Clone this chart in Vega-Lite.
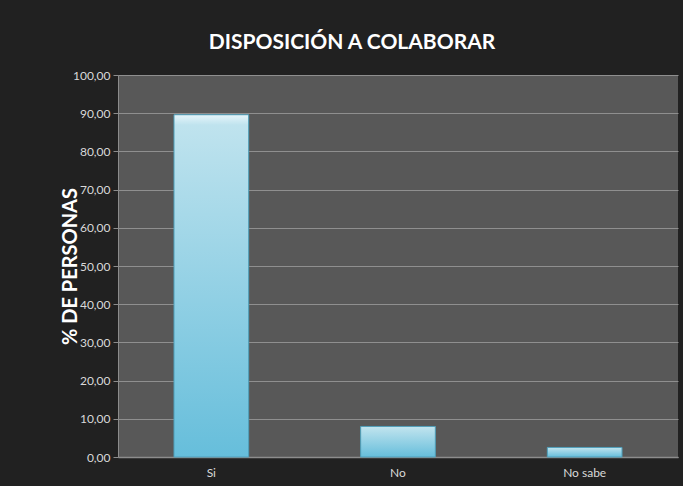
{
  "$schema": "https://vega.github.io/schema/vega-lite/v6.json",
  "width": 560,
  "height": 382,
  "autosize": {"type": "none"},
  "padding": {"left": 118, "top": 75, "right": 5, "bottom": 29},
  "background": "#212121",
  "title": {
    "text": "DISPOSICIÓN A COLABORAR",
    "font": "Lato",
    "fontSize": 21,
    "fontWeight": "bold",
    "color": "#ffffff",
    "anchor": "middle",
    "dx": -46,
    "offset": 16
  },
  "config": {
    "view": {"fill": "#585858", "stroke": null},
    "font": "Lato"
  },
  "data": {
    "values": [
      {"respuesta": "Si", "porcentaje": 89.6},
      {"respuesta": "No", "porcentaje": 8.0},
      {"respuesta": "No sabe", "porcentaje": 2.5}
    ]
  },
  "mark": {
    "type": "bar",
    "stroke": "#4f9fba",
    "strokeWidth": 1,
    "color": {
      "gradient": "linear",
      "x1": 0, "y1": 0, "x2": 0, "y2": 1,
      "stops": [
        {"offset": 0, "color": "#e6f5fa"},
        {"offset": 0.03, "color": "#bfe3ee"},
        {"offset": 1, "color": "#66bedb"}
      ]
    }
  },
  "encoding": {
    "x": {
      "field": "respuesta",
      "type": "nominal",
      "sort": ["Si", "No", "No sabe"],
      "scale": {"paddingInner": 0.6, "paddingOuter": 0.3},
      "axis": {
        "title": null,
        "labelAngle": 0,
        "labelColor": "#d9d9d9",
        "labelFont": "Lato",
        "labelFontSize": 12,
        "labelPadding": 10,
        "ticks": false,
        "domainColor": "#8c8c8c",
        "domainWidth": 1.5
      }
    },
    "y": {
      "field": "porcentaje",
      "type": "quantitative",
      "scale": {"domain": [0, 100]},
      "axis": {
        "title": "% DE PERSONAS",
        "titleFont": "Lato",
        "titleFontSize": 20,
        "titleFontWeight": "bold",
        "titleColor": "#ffffff",
        "titleX": -38,
        "values": [0, 10, 20, 30, 40, 50, 60, 70, 80, 90, 100],
        "labelExpr": "replace(format(datum.value, '.2f'), '.', ',')",
        "labelColor": "#d9d9d9",
        "labelFont": "Lato",
        "labelFontSize": 12,
        "labelPadding": 3,
        "tickSize": 5,
        "tickColor": "#8c8c8c",
        "domainColor": "#8c8c8c",
        "gridColor": "#8f8f8f",
        "gridWidth": 1
      }
    }
  }
}
